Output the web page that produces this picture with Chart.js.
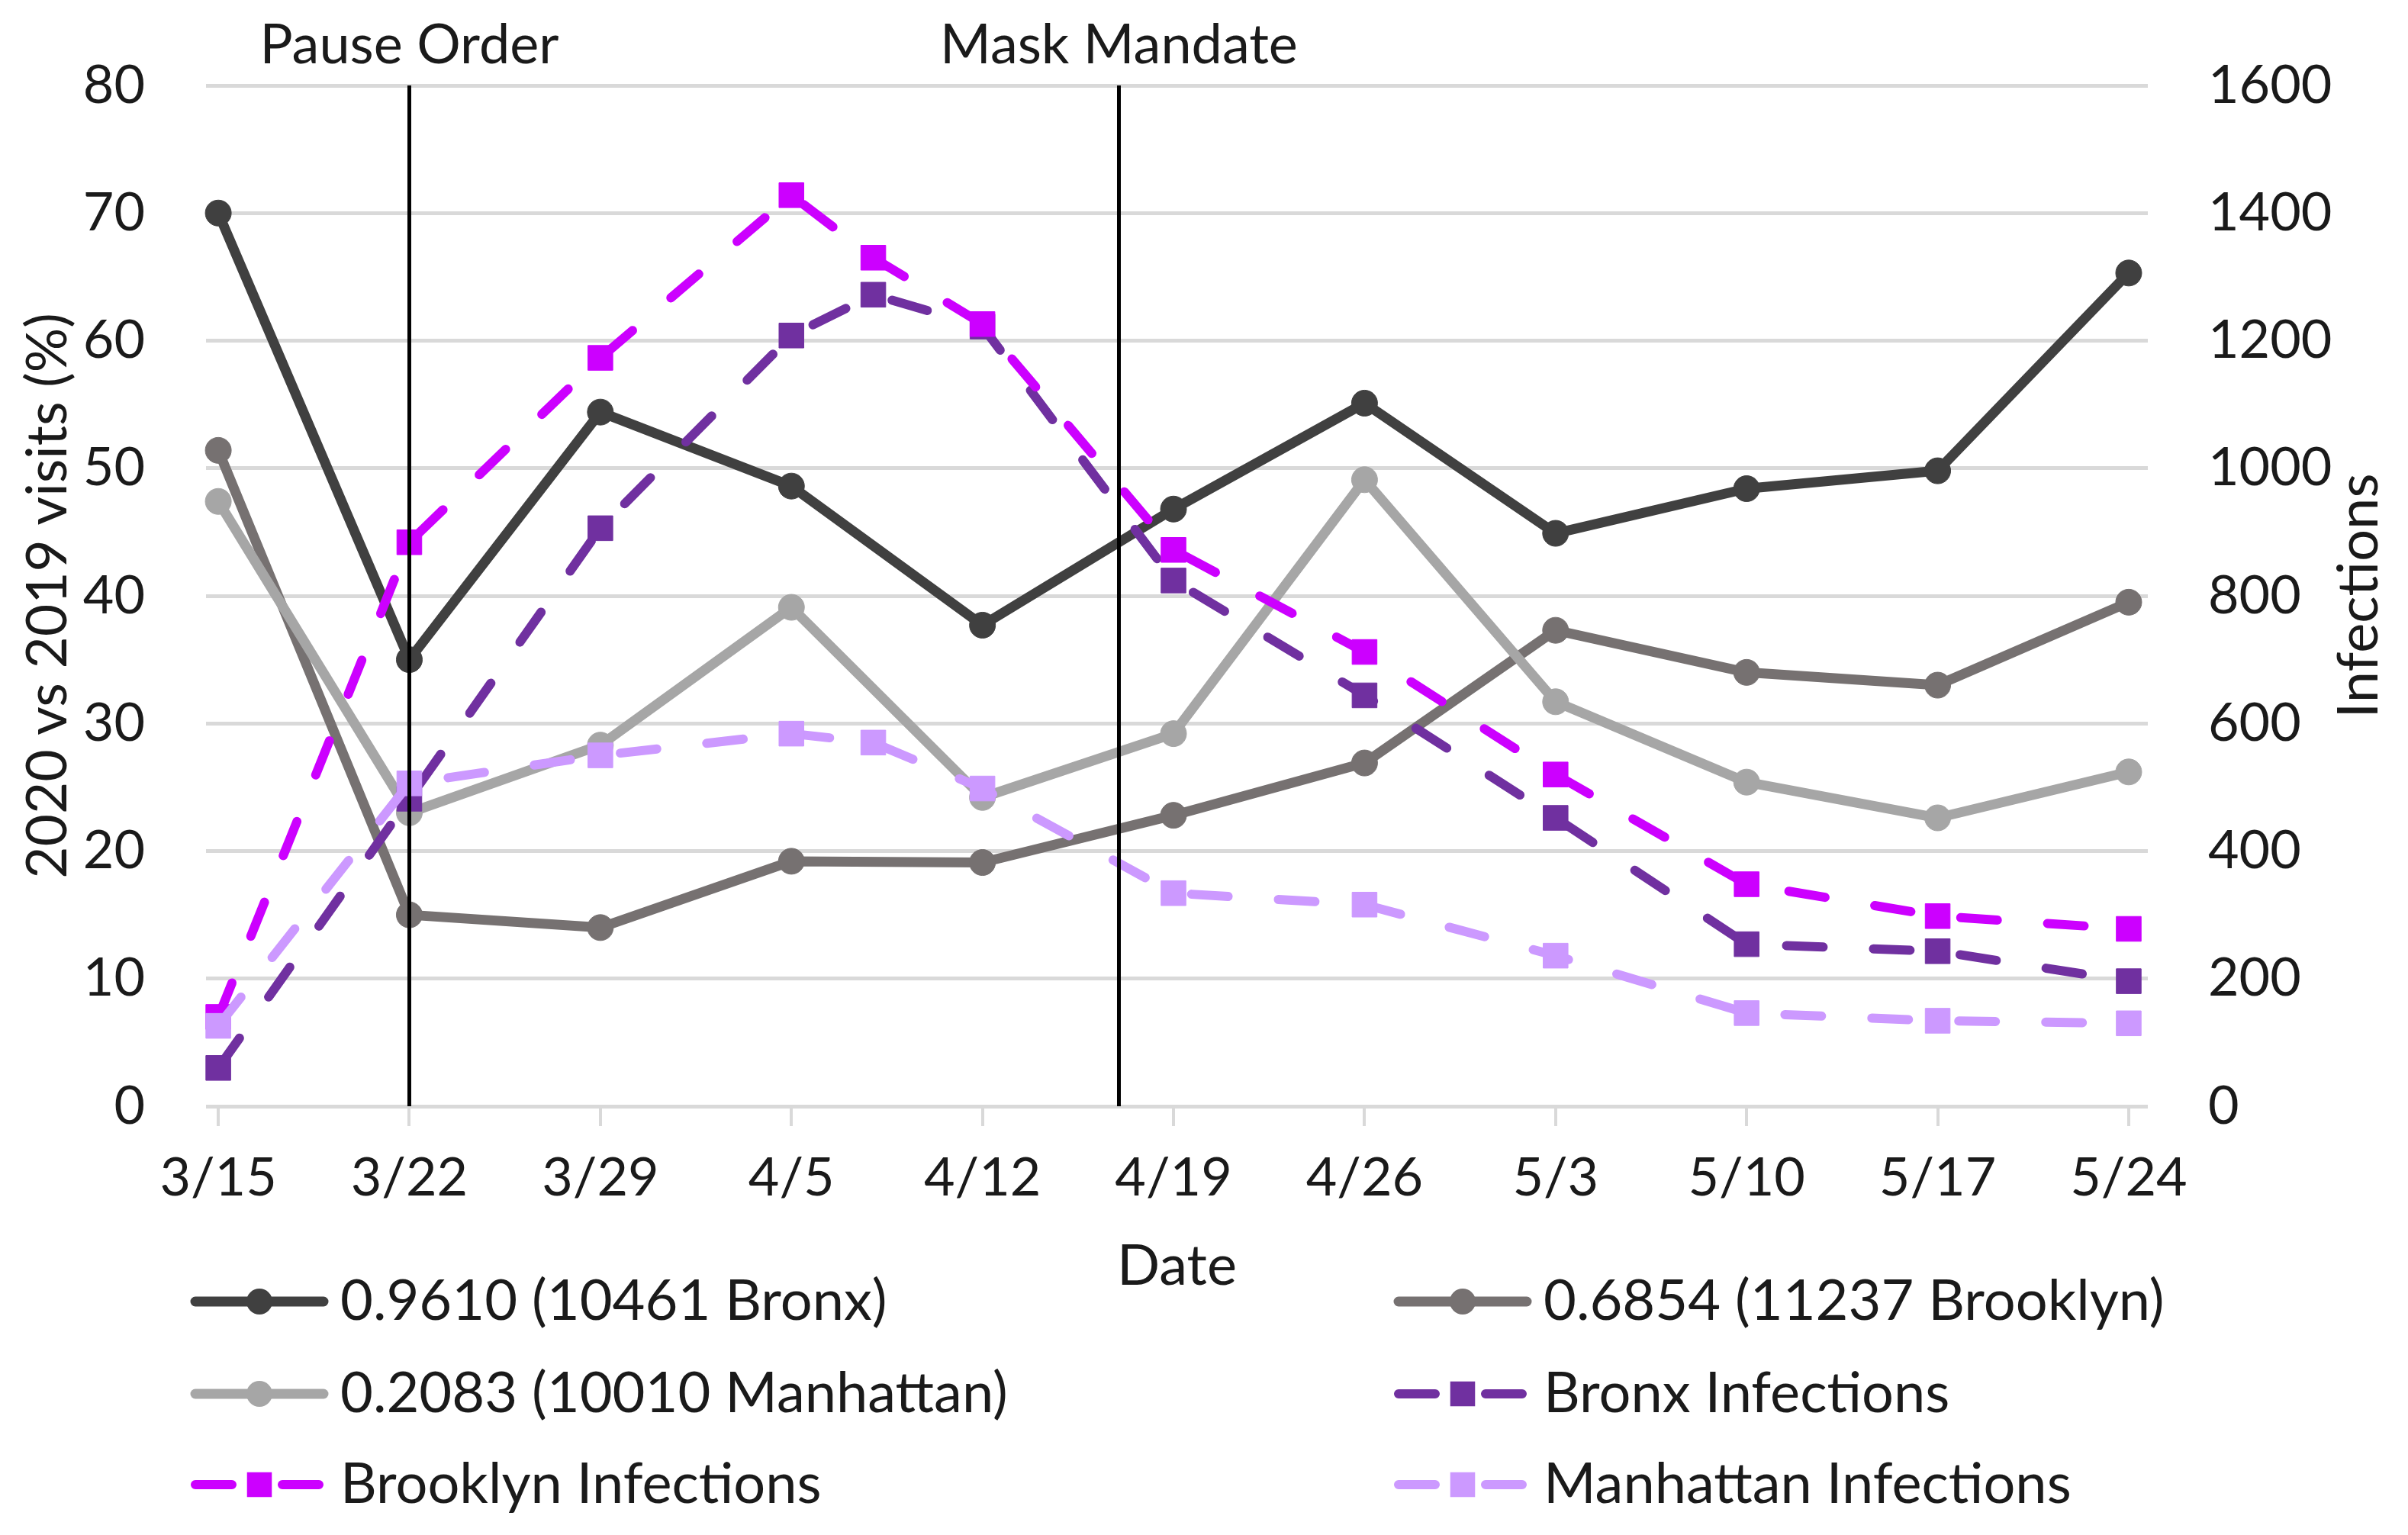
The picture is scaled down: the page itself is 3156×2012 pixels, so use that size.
<!DOCTYPE html>
<html>
<head>
<meta charset="utf-8">
<title>Visits vs infections, NYC 2020</title>
<script src="https://cdn.jsdelivr.net/npm/chart.js@4.4.1/dist/chart.umd.min.js"></script>
<style>
  html, body { margin: 0; padding: 0; background: #fff; }
  canvas { display: block; }
</style>
</head>
<body>
<canvas id="chart" width="3156" height="2012"></canvas>
<script>
// days after 3/15 for each weekly reading, and the tick labels
const weekDays = [0, 7, 14, 21, 28, 35, 42, 49, 56, 63, 70];
const weekLabels = ['3/15', '3/22', '3/29', '4/5', '4/12', '4/19', '4/26', '5/3', '5/10', '5/17', '5/24'];
// infection counts have one extra reading around 4/8
const infectionDays = [0, 7, 14, 21, 24, 28, 35, 42, 49, 56, 63, 70];

// 2020 vs 2019 visits (%)
const bronxVisits = [70, 35, 54.4, 48.6, 37.7, 46.8, 55.1, 44.9, 48.4, 49.8, 65.3];
const brooklynVisits = [51.4, 15, 14, 19.2, 19.1, 22.8, 26.9, 37.3, 34, 33, 39.5];
const manhattanVisits = [47.4, 23, 28.3, 39.1, 24.2, 29.2, 49.1, 31.7, 25.4, 22.6, 26.2];

// infections (right axis)
const bronxInfections = [60, 482, 906, 1208, 1272, 1222, 824, 644, 452, 254, 243, 196];
const brooklynInfections = [140, 884, 1173, 1428, 1330, 1226, 872, 712, 520, 348, 298, 278];
const manhattanInfections = [126, 506, 550, 584, 570, 498, 334, 316, 236, 146, 134, 130];

// policy events, days after 3/15
const eventDays = [7, 33];
const eventLabels = ['Pause Order', 'Mask Mandate'];

const leftTitle = '2020 vs 2019 visits (%)';
const rightTitle = 'Infections';
const FONT = 'Lato';
const TEXT = '#1a1a1a';

const toPoints = (xs, ys) => ys.map((y, i) => ({ x: xs[i], y }));

const solid = (label, data, color, order) => ({
  label, data, order,
  yAxisID: 'y',
  borderColor: color,
  backgroundColor: color,
  pointBackgroundColor: color,
  pointBorderColor: color,
  borderWidth: 13,
  pointRadius: 17,
  pointBorderWidth: 1,
  pointStyle: 'circle',
  borderJoinStyle: 'round',
  clip: false
});

const dashed = (label, data, color, order) => ({
  label, data, order,
  yAxisID: 'y1',
  borderColor: color,
  backgroundColor: color,
  pointBackgroundColor: color,
  pointBorderColor: color,
  borderWidth: 12,
  borderDash: [48, 66],
  borderCapStyle: 'round',
  borderJoinStyle: 'round',
  pointRadius: 23,
  pointBorderWidth: 1,
  pointStyle: 'rect',
  clip: false
});

// keep the plot box where the layout padding puts it
const fixVertical = (width) => (scale) => {
  scale.width = width;
  scale.paddingTop = 0;
  scale.paddingBottom = 0;
};

// vertical policy lines with their captions
const eventLines = {
  id: 'eventLines',
  afterDatasetsDraw(chart) {
    const { ctx, chartArea, scales } = chart;
    ctx.save();
    ctx.strokeStyle = '#000';
    ctx.lineWidth = 5;
    ctx.fillStyle = TEXT;
    ctx.font = `72px ${FONT}`;
    ctx.textAlign = 'center';
    ctx.textBaseline = 'middle';
    eventDays.forEach((d, i) => {
      const x = scales.x.getPixelForValue(d);
      ctx.beginPath();
      ctx.moveTo(x, chartArea.top);
      ctx.lineTo(x, chartArea.bottom);
      ctx.stroke();
      ctx.fillText(eventLabels[i], x, chartArea.top - 52);
    });
    ctx.restore();
  }
};

// right axis title reads bottom-to-top, like the left one
const rightAxisTitle = {
  id: 'rightAxisTitle',
  afterDraw(chart) {
    const { ctx, chartArea } = chart;
    ctx.save();
    ctx.translate(3092, (chartArea.top + chartArea.bottom) / 2);
    ctx.rotate(-Math.PI / 2);
    ctx.fillStyle = TEXT;
    ctx.font = `74px ${FONT}`;
    ctx.textAlign = 'center';
    ctx.textBaseline = 'middle';
    ctx.fillText(rightTitle, 0, 0);
    ctx.restore();
  }
};

// two-column legend under the axis
const gridLegend = {
  id: 'gridLegend',
  afterDraw(chart) {
    const { ctx } = chart;
    const colX = [250, 1827];
    const rowY = [1706, 1827, 1946];
    const sample = 180;
    ctx.save();
    chart.data.datasets.forEach((ds, i) => {
      const x0 = colX[i % 2];
      const y = rowY[Math.floor(i / 2)];
      ctx.strokeStyle = ds.borderColor;
      ctx.fillStyle = ds.borderColor;
      ctx.lineWidth = ds.borderWidth;
      ctx.lineCap = 'round';
      ctx.setLineDash(ds.borderDash || []);
      ctx.beginPath();
      ctx.moveTo(x0 + 6, y);
      ctx.lineTo(x0 + sample - 6, y);
      ctx.stroke();
      ctx.setLineDash([]);
      const cx = x0 + sample / 2;
      if (ds.pointStyle === 'rect') {
        const s = ds.pointRadius * Math.SQRT2;
        ctx.fillRect(cx - s / 2, y - s / 2, s, s);
      } else {
        ctx.beginPath();
        ctx.arc(cx, y, ds.pointRadius, 0, Math.PI * 2);
        ctx.fill();
      }
      ctx.fillStyle = TEXT;
      ctx.font = `74px ${FONT}`;
      ctx.textAlign = 'left';
      ctx.textBaseline = 'middle';
      ctx.fillText(ds.label, x0 + sample + 16, y);
    });
    ctx.restore();
  }
};

new Chart(document.getElementById('chart'), {
  type: 'line',
  data: {
    datasets: [
      solid('0.9610 (10461 Bronx)', toPoints(weekDays, bronxVisits), '#404040', 6),
      solid('0.6854 (11237 Brooklyn)', toPoints(weekDays, brooklynVisits), '#767171', 5),
      solid('0.2083 (10010 Manhattan)', toPoints(weekDays, manhattanVisits), '#a6a6a6', 4),
      dashed('Bronx Infections', toPoints(infectionDays, bronxInfections), '#7030a0', 3),
      dashed('Brooklyn Infections', toPoints(infectionDays, brooklynInfections), '#cc00ff', 2),
      dashed('Manhattan Infections', toPoints(infectionDays, manhattanInfections), '#cc99ff', 1)
    ]
  },
  options: {
    responsive: false,
    devicePixelRatio: 1,
    animation: false,
    events: [],
    layout: { padding: { top: 112, right: 0, bottom: 300, left: 0 } },
    plugins: {
      legend: { display: false },
      tooltip: { enabled: false }
    },
    scales: {
      x: {
        type: 'linear',
        min: -0.45,
        max: 70.7,
        afterBuildTicks: (scale) => { scale.ticks = weekDays.map(v => ({ value: v })); },
        afterFit: (scale) => { scale.height = 262; },
        ticks: {
          autoSkip: false,
          maxRotation: 0,
          padding: 26,
          color: TEXT,
          font: { family: FONT, size: 70 },
          callback: (value) => weekLabels[weekDays.indexOf(value)]
        },
        grid: { drawOnChartArea: false, drawTicks: true, tickLength: 26, color: '#d9d9d9', lineWidth: 4 },
        border: { display: false },
        title: { display: true, text: 'Date', color: TEXT, font: { family: FONT, size: 74 }, padding: { top: 0, bottom: 7 } }
      },
      y: {
        position: 'left',
        min: 0,
        max: 80,
        afterFit: fixVertical(270),
        ticks: { stepSize: 10, padding: 80, color: TEXT, font: { family: FONT, size: 70 } },
        grid: { drawTicks: false, color: '#d9d9d9', lineWidth: 5 },
        border: { display: false },
        title: { display: true, text: leftTitle, color: TEXT, font: { family: FONT, size: 73 }, padding: { top: 20, bottom: 0 } }
      },
      y1: {
        position: 'right',
        min: 0,
        max: 1600,
        afterFit: fixVertical(341),
        ticks: {
          stepSize: 200,
          padding: 79,
          color: TEXT,
          font: { family: FONT, size: 70 },
          callback: (value) => String(value)
        },
        grid: { drawOnChartArea: false, drawTicks: false },
        border: { display: false }
      }
    }
  },
  plugins: [eventLines, rightAxisTitle, gridLegend]
});
</script>
</body>
</html>
